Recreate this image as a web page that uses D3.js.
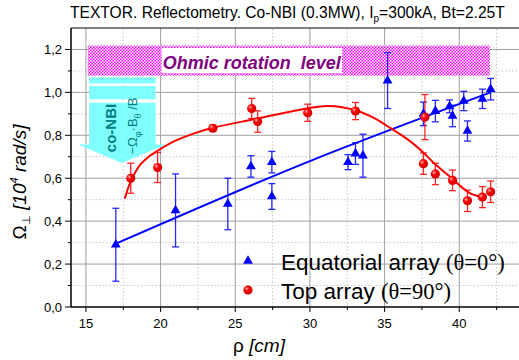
<!DOCTYPE html>
<html>
  <head>
    <meta charset="utf-8">
    <title>TEXTOR reflectometry rotation</title>
    <script src="https://d3js.org/d3.v7.min.js"></script>
    <style>
      body { margin: 0; background: #fff; }
      text { font-family: "Liberation Sans", Arial, sans-serif; }
      .serif { font-family: "Liberation Serif", "Times New Roman", serif; }
    </style>
  </head>
  <body>
    <svg id="chart" width="519" height="360"></svg>
    <script>
      // data
      var equatorialRho = [17.0, 21.0, 24.5, 26.05, 27.45, 27.45, 32.55, 33.05, 33.55, 35.2, 37.6, 38.4, 39.35, 39.55, 40.3, 40.55, 41.55, 42.1];
      var equatorialOmega = [0.29, 0.45, 0.48, 0.655, 0.675, 0.515, 0.675, 0.715, 0.705, 1.055, 0.90, 0.913, 0.935, 0.89, 0.96, 0.82, 0.97, 1.015];
      var equatorialErr = [0.17, 0.17, 0.12, 0.05, 0.05, 0.06, 0.035, 0.05, 0.10, 0.13, 0.055, 0.05, 0.03, 0.05, 0.045, 0.047, 0.045, 0.05];
      var topRho = [18.0, 19.8, 23.5, 26.1, 26.5, 29.85, 33.05, 37.7, 37.6, 38.4, 39.55, 40.55, 41.55, 42.1];
      var topOmega = [0.60, 0.65, 0.833, 0.925, 0.864, 0.905, 0.913, 0.885, 0.668, 0.62, 0.59, 0.495, 0.512, 0.537];
      var topErr = [0.07, 0.07, 0.015, 0.047, 0.05, 0.04, 0.04, 0.105, 0.05, 0.05, 0.048, 0.05, 0.049, 0.05];
      // fitted curves
      var equatorialFitRho = [17.0, 30.0, 42.1];
      var equatorialFitOmega = [0.295, 0.68, 1.0];
      var topFitRho = [17.6, 18.0, 18.6, 19.3, 20.0, 21.0, 22.2, 23.5, 26.4, 29.8, 31.2, 33.0, 34.25, 35.25, 36.7, 37.5, 38.3, 39.2, 40.1, 40.7, 41.55];
      var topFitOmega = [0.505, 0.585, 0.66, 0.705, 0.737, 0.775, 0.808, 0.835, 0.877, 0.925, 0.937, 0.918, 0.882, 0.84, 0.773, 0.726, 0.671, 0.617, 0.562, 0.531, 0.511];
      // ohmic level band
      var ohmicRho = [15.12, 42.05];
      var ohmicOmega = [1.078, 1.218];
      // axis ticks
      var xMajor = [15, 20, 25, 30, 35, 40];
      var xMinor = [17.5, 22.5, 27.5, 32.5, 37.5, 42.5];
      var yMajor = [0, 0.2, 0.4, 0.6, 0.8, 1.0, 1.2];
      var yMinor = [0.1, 0.3, 0.5, 0.7, 0.9, 1.1];

      var svg = d3.select("#chart");
      var x = d3.scaleLinear().domain([14, 44]).range([71, 519]);
      var y = d3.scaleLinear().domain([0, 1.3]).range([307, 28]);

      var defs = svg.append("defs");
      var pat = defs.append("pattern")
        .attr("id", "hatch").attr("patternUnits", "userSpaceOnUse")
        .attr("width", 3).attr("height", 3);
      pat.append("rect").attr("width", 3).attr("height", 3).attr("fill", "#ff00ff");
      pat.append("rect").attr("x", 0).attr("y", 0).attr("width", 1.5).attr("height", 1.5).attr("fill", "#fff");
      pat.append("rect").attr("x", 1.5).attr("y", 1.5).attr("width", 1.5).attr("height", 1.5).attr("fill", "#fff");
      var grad = defs.append("radialGradient").attr("id", "ball")
        .attr("cx", "35%").attr("cy", "35%").attr("r", "65%");
      grad.append("stop").attr("offset", "0%").attr("stop-color", "#ffb0b0");
      grad.append("stop").attr("offset", "40%").attr("stop-color", "#ff0000");
      grad.append("stop").attr("offset", "100%").attr("stop-color", "#d00000");

      // grid
      var grid = svg.append("g");
      grid.selectAll(".gxm").data(xMinor).enter().append("line")
        .attr("x1", function(d) { return x(d); }).attr("x2", function(d) { return x(d); })
        .attr("y1", y(0)).attr("y2", y(1.3))
        .attr("stroke", "#c8c8c8").attr("stroke-dasharray", "1.5,2");
      grid.selectAll(".gym").data(yMinor).enter().append("line")
        .attr("x1", x(14)).attr("x2", x(44))
        .attr("y1", function(d) { return y(d); }).attr("y2", function(d) { return y(d); })
        .attr("stroke", "#c8c8c8").attr("stroke-dasharray", "1.5,2");
      grid.selectAll(".gx").data(xMajor).enter().append("line")
        .attr("x1", function(d) { return x(d); }).attr("x2", function(d) { return x(d); })
        .attr("y1", y(0)).attr("y2", y(1.3))
        .attr("stroke", "#a0a0a0");
      grid.selectAll(".gy").data(yMajor.slice(1)).enter().append("line")
        .attr("x1", x(14)).attr("x2", x(44))
        .attr("y1", function(d) { return y(d); }).attr("y2", function(d) { return y(d); })
        .attr("stroke", "#a0a0a0");

      // ohmic band
      svg.append("rect")
        .attr("x", x(ohmicRho[0])).attr("width", x(ohmicRho[1]) - x(ohmicRho[0]))
        .attr("y", y(ohmicOmega[1])).attr("height", y(ohmicOmega[0]) - y(ohmicOmega[1]))
        .attr("fill", "url(#hatch)");
      svg.append("rect")
        .attr("x", x(20.07)).attr("width", x(32.15) - x(20.07))
        .attr("y", y(1.207)).attr("height", y(1.09) - y(1.207))
        .attr("fill", "#fff");
      svg.append("text")
        .attr("x", x(26.1)).attr("y", y(1.108))
        .attr("text-anchor", "middle")
        .style("white-space", "pre")
        .attr("font-size", 18).attr("font-weight", "bold").attr("font-style", "italic")
        .attr("fill", "#800080")
        .text("Ohmic rotation  level");

      // co-NBI arrow
      var cyan = "#80ffff";
      svg.append("rect")
        .attr("x", x(15.21)).attr("width", x(19.67) - x(15.21))
        .attr("y", y(1.07)).attr("height", y(1.042) - y(1.07)).attr("fill", cyan);
      svg.append("rect")
        .attr("x", x(15.21)).attr("width", x(19.67) - x(15.21))
        .attr("y", y(1.03)).attr("height", y(0.968) - y(1.03)).attr("fill", cyan);
      var arrow = [[15.21, 0.952], [19.67, 0.952], [19.67, 0.757], [20.36, 0.757], [17.4, 0.671],
                   [14.47, 0.757], [15.21, 0.757]];
      svg.append("path")
        .attr("d", d3.line().x(function(d) { return x(d[0]); }).y(function(d) { return y(d[1]); })(arrow) + "Z")
        .attr("fill", cyan);
      svg.append("text")
        .attr("transform", "translate(116," + 128 + ") rotate(-90)")
        .attr("text-anchor", "middle")
        .attr("font-size", 15).attr("font-weight", "bold").attr("fill", "#008080")
        .text("co-NBI");
      var f = svg.append("text")
        .attr("transform", "translate(137," + 126 + ") rotate(-90)")
        .attr("text-anchor", "middle")
        .style("white-space", "pre")
        .attr("font-size", 13).attr("fill", "#008080");
      f.append("tspan").text("\u2212\u03A9");
      f.append("tspan").attr("font-size", 9).attr("dy", 4).text("\u03C6");
      f.append("tspan").attr("dy", -4).text("\u00B7B");
      f.append("tspan").attr("font-size", 9).attr("dy", 4).text("\u03B8");
      f.append("tspan").attr("dy", -4).text(" /B");

      // fits
      var fitLine = d3.line()
        .x(function(d) { return x(d[0]); }).y(function(d) { return y(d[1]); });
      svg.append("path")
        .attr("d", fitLine.curve(d3.curveMonotoneX)(d3.zip(equatorialFitRho, equatorialFitOmega)))
        .attr("fill", "none").attr("stroke", "#0000ff").attr("stroke-width", 2);
      svg.append("path")
        .attr("d", fitLine.curve(d3.curveCatmullRom.alpha(0.5))(d3.zip(topFitRho, topFitOmega)))
        .attr("fill", "none").attr("stroke", "#ff0000").attr("stroke-width", 2);

      // error bars + markers
      function errorBars(rho, om, err, color) {
        var g = svg.append("g").attr("stroke", color).attr("stroke-width", 1.3).attr("opacity", 0.85);
        rho.forEach(function(r, i) {
          var cx = x(r), t = y(om[i] + err[i]), b = y(om[i] - err[i]);
          g.append("line").attr("x1", cx).attr("x2", cx).attr("y1", t).attr("y2", b);
          g.append("line").attr("x1", cx - 3.5).attr("x2", cx + 3.5).attr("y1", t).attr("y2", t);
          g.append("line").attr("x1", cx - 3.5).attr("x2", cx + 3.5).attr("y1", b).attr("y2", b);
        });
      }
      errorBars(equatorialRho, equatorialOmega, equatorialErr, "#0000ff");
      errorBars(topRho, topOmega, topErr, "#ff0000");
      var tri = d3.symbol().type(d3.symbolTriangle).size(42);
      svg.selectAll(".tri").data(d3.zip(equatorialRho, equatorialOmega)).enter().append("path")
        .attr("d", tri)
        .attr("transform", function(d) { return "translate(" + x(d[0]) + "," + y(d[1]) + ")"; })
        .attr("fill", "#0000ff");
      svg.selectAll(".ball").data(d3.zip(topRho, topOmega)).enter().append("circle")
        .attr("cx", function(d) { return x(d[0]); })
        .attr("cy", function(d) { return y(d[1]); })
        .attr("r", 4.6)
        .attr("fill", "url(#ball)");

      // axes
      var fmt = function(d) { return d3.format(".1f")(d).replace(".", ","); };
      var ax = svg.append("g").attr("stroke", "#000");
      ax.append("line").attr("x1", x(14)).attr("x2", x(14)).attr("y1", y(0)).attr("y2", y(1.3)).attr("stroke-width", 1.5);
      ax.append("line").attr("x1", x(14)).attr("x2", x(44)).attr("y1", y(0)).attr("y2", y(0)).attr("stroke-width", 1.5);
      ax.append("line").attr("x1", x(14)).attr("x2", x(44)).attr("y1", y(1.3)).attr("y2", y(1.3)).attr("stroke-width", 1);
      ax.selectAll(".ty").data(yMajor).enter().append("line")
        .attr("x1", x(14) - 6).attr("x2", x(14))
        .attr("y1", function(d) { return y(d); }).attr("y2", function(d) { return y(d); });
      ax.selectAll(".tym").data(yMinor).enter().append("line")
        .attr("x1", x(14) - 3).attr("x2", x(14))
        .attr("y1", function(d) { return y(d); }).attr("y2", function(d) { return y(d); });
      ax.selectAll(".tx").data(xMajor).enter().append("line")
        .attr("x1", function(d) { return x(d); }).attr("x2", function(d) { return x(d); })
        .attr("y1", y(0)).attr("y2", y(0) + 5);
      ax.selectAll(".txm").data(xMinor).enter().append("line")
        .attr("x1", function(d) { return x(d); }).attr("x2", function(d) { return x(d); })
        .attr("y1", y(0)).attr("y2", y(0) + 3);
      svg.selectAll(".ly").data(yMajor).enter().append("text")
        .attr("x", x(14) - 9).attr("y", function(d) { return y(d) + 4.5; })
        .attr("text-anchor", "end").attr("font-size", 13)
        .text(fmt);
      svg.selectAll(".lx").data(xMajor).enter().append("text")
        .attr("x", function(d) { return x(d); }).attr("y", 328)
        .attr("text-anchor", "middle").attr("font-size", 13)
        .text(function(d) { return d; });

      // axis titles
      var xt = svg.append("text").attr("x", 233).attr("y", 352).attr("font-size", 19);
      xt.append("tspan").text("\u03C1 ");
      xt.append("tspan").attr("font-style", "italic").text("[cm]");
      var yt = svg.append("text")
        .attr("transform", "translate(26,182) rotate(-90)")
        .attr("text-anchor", "middle").attr("font-size", 19);
      yt.append("tspan").text("\u03A9");
      yt.append("tspan").attr("font-size", 11).attr("dy", 4).text("\u22A5");
      yt.append("tspan").attr("dy", -4).attr("font-style", "italic").text(" [10");
      yt.append("tspan").attr("font-size", 11).attr("dy", -8).attr("font-style", "italic").text("4");
      yt.append("tspan").attr("dy", 8).attr("font-style", "italic").text(" rad/s]");

      // title
      var tt = svg.append("text").attr("x", 70).attr("y", 18).attr("font-size", 15.6);
      tt.append("tspan").text("TEXTOR. Reflectometry. Co-NBI (0.3MW), I");
      tt.append("tspan").attr("font-size", 10).attr("dy", 4).text("p");
      tt.append("tspan").attr("dy", -4).text("=300kA, Bt=2.25T");

      // legend
      svg.append("path").attr("d", tri).attr("transform", "translate(248,261)").attr("fill", "#0000ff");
      svg.append("circle").attr("cx", 248).attr("cy", 290).attr("r", 4.6).attr("fill", "url(#ball)");
      var l1 = svg.append("text").attr("x", 281).attr("y", 270).attr("font-size", 22.5);
      l1.append("tspan").text("Equatorial array ");
      l1.append("tspan").attr("class", "serif").text("(\u03B8=0\u00B0)");
      var l2 = svg.append("text").attr("x", 281).attr("y", 299).attr("font-size", 22.5);
      l2.append("tspan").text("Top array ");
      l2.append("tspan").attr("class", "serif").text("(\u03B8=90\u00B0)");
    </script>
  </body>
</html>
